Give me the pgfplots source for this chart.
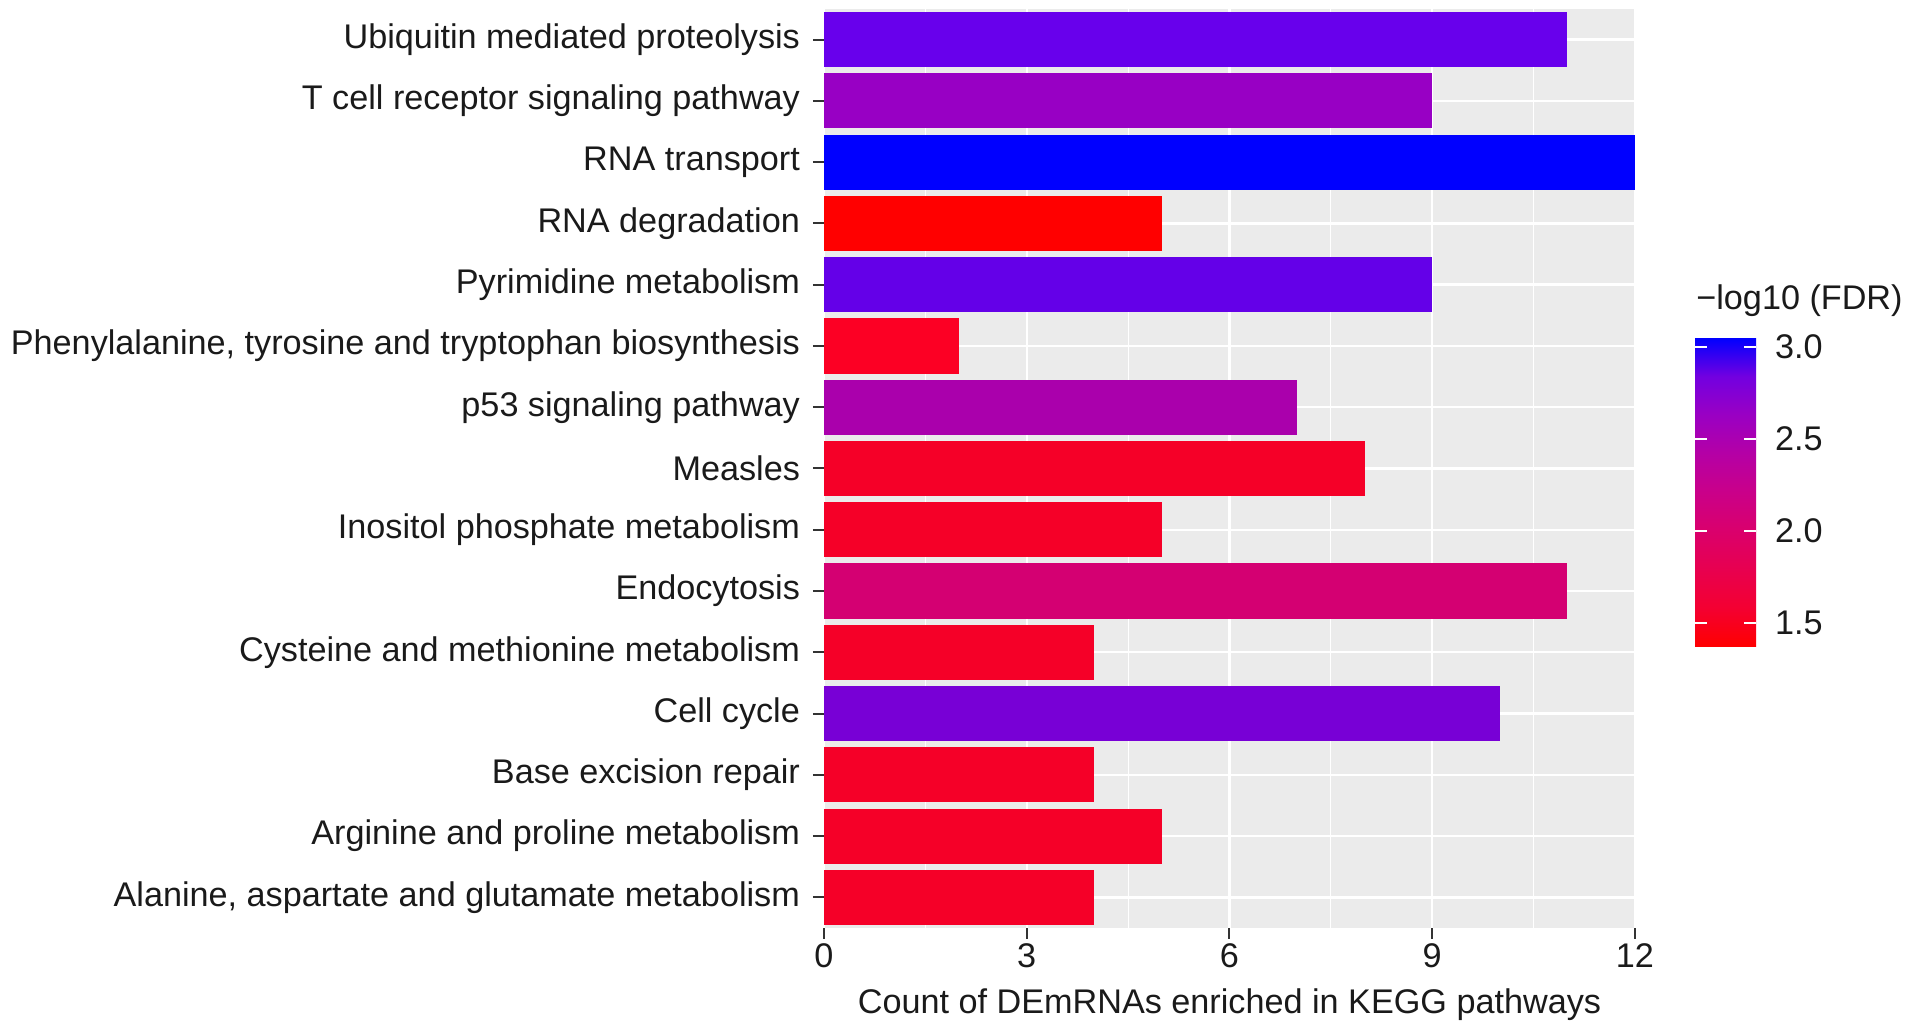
\documentclass[border=0pt]{standalone}
\usepackage{fontspec}
\setmainfont{Liberation Sans}
\usepackage{pgfplots}
\pgfplotsset{compat=1.18}
\definecolor{panelgray}{HTML}{EBEBEB}
\definecolor{tickgray}{HTML}{333333}
\definecolor{txt}{HTML}{1A1A1A}
\newcommand\fs{\fontsize{17.1}{20.5}\selectfont}
\begin{document}
\begin{tikzpicture}
\begin{axis}[
  name=main,
  at={(0,0)}, anchor=south west,
  scale only axis, width=405.5pt, height=459.5pt,
  xmin=0, xmax=12, ymin=-0.5, ymax=14.5,
  xbar, bar width=0.9, bar shift=0pt,
  axis background/.style={fill=panelgray},
  axis line style={draw=none},
  xtick={0,3,6,9,12}, xticklabels={0,3,6,9,12},
  minor xtick={1.5,4.5,7.5,10.5},
  ytick={0,...,14},
  yticklabels={{Alanine, aspartate and glutamate metabolism},
    Arginine and proline metabolism,
    Base excision repair,
    Cell cycle,
    Cysteine and methionine metabolism,
    Endocytosis,
    Inositol phosphate metabolism,
    Measles,
    p53 signaling pathway,
    {Phenylalanine, tyrosine and tryptophan biosynthesis},
    Pyrimidine metabolism,
    RNA degradation,
    RNA transport,
    T cell receptor signaling pathway,
    Ubiquitin mediated proteolysis},
  xmajorgrids, ymajorgrids, xminorgrids,
  major grid style={draw=white, line width=1.2pt},
  minor grid style={draw=white, line width=0.6pt},
  xtick pos=bottom, ytick pos=left,
  tick align=outside,
  major tick length=5.5pt, minor tick length=0pt,
  tick style={draw=tickgray, line width=1pt},
  ticklabel style={font=\fs, text=txt},
  xticklabel style={inner ysep=2pt},
  yticklabel style={xshift=-3pt},
  xlabel={Count of DEmRNAs enriched in KEGG pathways},
  xlabel style={font=\fs, text=txt, at={(axis description cs:0.5,0)}, anchor=north, yshift=-30pt, inner sep=0pt},
  colormap={rb}{rgb255=(255,0,0) rgb255=(244,0,49) rgb255=(232,0,79) rgb255=(218,0,108) rgb255=(202,0,137) rgb255=(181,0,165) rgb255=(154,0,195) rgb255=(115,0,224) rgb255=(0,0,255)},
  point meta min=1.37, point meta max=3.05,
  colorbar,
  colorbar/width=30.5pt,
  colorbar style={
    scale only axis, width=30.5pt, height=154.5pt,
    at={(parent axis.south east)}, anchor=south west,
    xshift=21.5pt, yshift=140.5pt,
    axis line style={draw=none},
    axis on top,
    ytick={1.5,2,2.5,3}, yticklabels={1.5,2.0,2.5,3.0},
    ytick pos=both, yticklabel pos=right,
    tick align=inside, major tick length=6pt,
    ytick style={draw=white, line width=1pt},
    yticklabel style={font=\fs, text=txt, xshift=6pt},
  },
]
\addplot[fill={rgb,255:red,245;green,0;blue,40}, draw=none] coordinates {(4,0)};
\addplot[fill={rgb,255:red,245;green,0;blue,40}, draw=none] coordinates {(5,1)};
\addplot[fill={rgb,255:red,245;green,0;blue,40}, draw=none] coordinates {(4,2)};
\addplot[fill={rgb,255:red,120;green,0;blue,214}, draw=none] coordinates {(10,3)};
\addplot[fill={rgb,255:red,245;green,0;blue,40}, draw=none] coordinates {(4,4)};
\addplot[fill={rgb,255:red,212;green,0;blue,114}, draw=none] coordinates {(11,5)};
\addplot[fill={rgb,255:red,245;green,0;blue,40}, draw=none] coordinates {(5,6)};
\addplot[fill={rgb,255:red,245;green,0;blue,40}, draw=none] coordinates {(8,7)};
\addplot[fill={rgb,255:red,170;green,0;blue,172}, draw=none] coordinates {(7,8)};
\addplot[fill={rgb,255:red,252;green,0;blue,36}, draw=none] coordinates {(2,9)};
\addplot[fill={rgb,255:red,100;green,0;blue,232}, draw=none] coordinates {(9,10)};
\addplot[fill={rgb,255:red,255;green,0;blue,0}, draw=none] coordinates {(5,11)};
\addplot[fill={rgb,255:red,0;green,0;blue,255}, draw=none] coordinates {(12,12)};
\addplot[fill={rgb,255:red,152;green,0;blue,196}, draw=none] coordinates {(9,13)};
\addplot[fill={rgb,255:red,104;green,0;blue,236}, draw=none] coordinates {(11,14)};
\end{axis}
\node[anchor=west, inner sep=0pt, font=\fs, text=txt] at ([shift={(436pt,313.5pt)}]main.south west) {−log10 (FDR)};
\pgfresetboundingbox
\path[use as bounding box] ([shift={(-412pt,-52pt)}]main.south west) rectangle ([shift={(544.5pt,464pt)}]main.south west);
\end{tikzpicture}
\end{document}
